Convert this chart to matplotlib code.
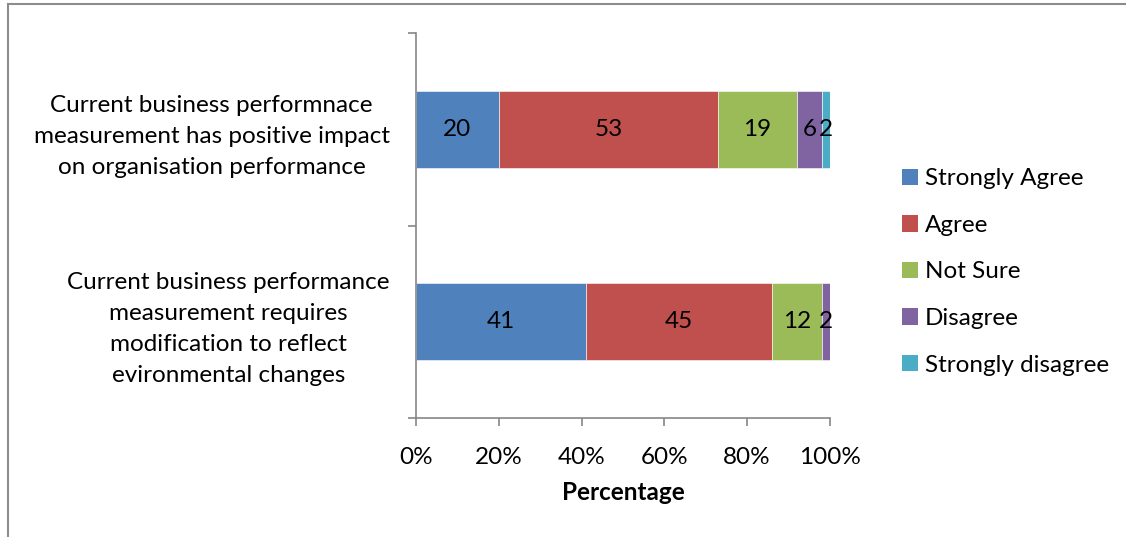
import numpy as np
import matplotlib.pyplot as plt
from matplotlib.lines import Line2D
from matplotlib.patches import Patch

plt.rcParams['font.family'] = ['Lato', 'DejaVu Sans']

statements = ["Current business performance\nmeasurement requires\nmodification to reflect\nevironmental changes",
              "Current business performnace\nmeasurement has positive impact\non organisation performance"]
responses = ["Strongly Agree", "Agree", "Not Sure", "Disagree", "Strongly disagree"]
strongly_agree = [41, 20]
agree = [45, 53]
not_sure = [12, 19]
disagree = [2, 6]
strongly_disagree = [0, 2]
colors = ["#4F81BD", "#C0504D", "#9BBB59", "#8064A2", "#4BACC6"]

series = [strongly_agree, agree, not_sure, disagree, strongly_disagree]

fig = plt.figure(figsize=(11.26, 5.37), dpi=100)
ax = fig.add_axes([0.3694, 0.2216, 0.3677, 0.7169])

ypos = np.arange(len(statements))
left = np.zeros(len(statements))
for vals, name, col in zip(series, responses, colors):
    vals = np.array(vals, dtype=float)
    bars = ax.barh(ypos, vals / 100.0, left=left, height=0.4, color=col,
                   label=name, edgecolor="white", linewidth=0.4)
    labs = [str(int(v)) if v > 0 else "" for v in vals]
    ax.bar_label(bars, labels=labs, label_type="center", fontsize=17.5, color="black")
    left += vals / 100.0

ax.set_xlim(0, 1)
ax.set_ylim(-0.5, 1.5)
ax.set_xticks(np.linspace(0, 1, 6))
ax.set_xticklabels(["0%", "20%", "40%", "60%", "80%", "100%"], fontsize=17.5)
ax.set_xlabel("Percentage", fontsize=17.5, fontweight="bold", labelpad=9)

ax.set_yticks(ypos)
ax.set_yticklabels(statements, fontsize=17.5, linespacing=1.6)
for lab in ax.get_yticklabels():
    lab.set_multialignment("center")
ax.set_yticks([-0.5, 0.5, 1.5], minor=True)
ax.tick_params(axis="y", which="major", length=0, pad=19)
ax.tick_params(axis="y", which="minor", length=6, color="#868686", width=1.2)
ax.tick_params(axis="x", length=6, color="#868686", width=1.2, pad=15)

for s in ["top", "right"]:
    ax.spines[s].set_visible(False)
for s in ["left", "bottom"]:
    ax.spines[s].set_color("#868686")
    ax.spines[s].set_linewidth(1.2)

handles = [Patch(facecolor=c, label=n) for c, n in zip(colors, responses)]
fig.legend(handles=handles, loc="center left", bbox_to_anchor=(0.7817, 0.4935),
           frameon=False, fontsize=17.5, handlelength=0.65, handleheight=0.65,
           handletextpad=0.3, labelspacing=1.05)

# outer frame lines
fig.add_artist(Line2D([8 / 1126, 8 / 1126], [0, 1 - 4 / 537], color="#8c8c8c", lw=1.5))
fig.add_artist(Line2D([8 / 1126, 1], [1 - 4 / 537, 1 - 4 / 537], color="#8c8c8c", lw=1.5))

fig.savefig("out.png", dpi=100)
